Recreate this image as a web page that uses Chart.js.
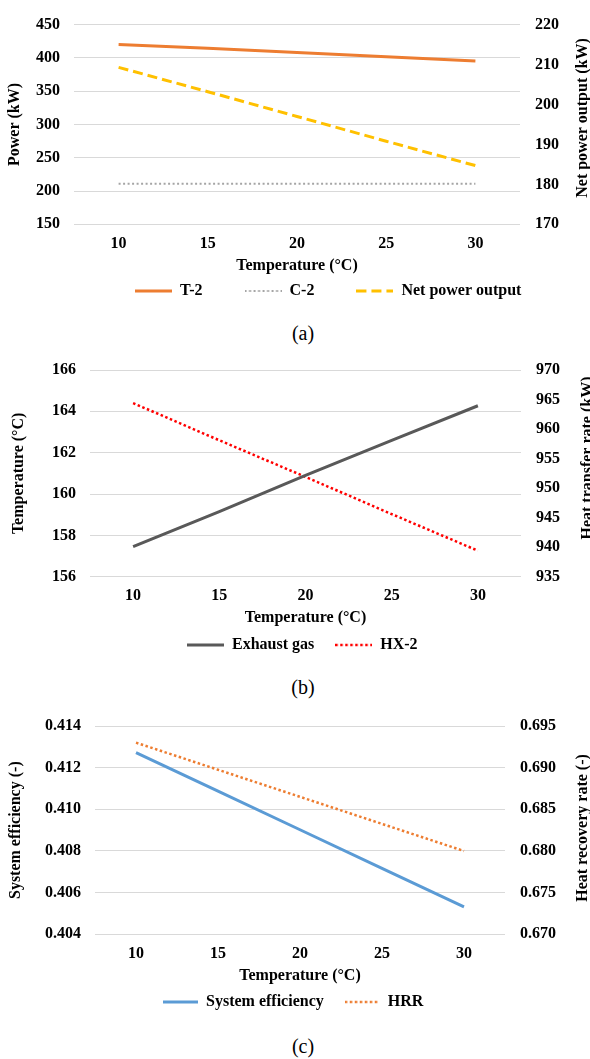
<!DOCTYPE html>
<html>
<head>
<meta charset="utf-8">
<script src="https://cdn.jsdelivr.net/npm/chart.js@4"></script>
<style>
  body { margin: 0; background: #fff; }
  #wrap { position: relative; width: 590px; height: 1059px; overflow: hidden; }
  canvas { position: absolute; left: 0; }
  .cap { position: absolute; left: 0; width: 606px; text-align: center; font: 20px "Liberation Serif", serif; line-height: 24px; color: #000; }
</style>
</head>
<body>
<div id="wrap">
  <canvas id="chartA" width="590" height="320" style="top:0px"></canvas>
  <div class="cap" style="top:321px">(a)</div>
  <canvas id="chartB" width="590" height="330" style="top:340px"></canvas>
  <div class="cap" style="top:675px">(b)</div>
  <canvas id="chartC" width="590" height="330" style="top:700px"></canvas>
  <div class="cap" style="top:1034px">(c)</div>
</div>
<script>
// ambient temperature (x axis)
const temps = ['10', '15', '20', '25', '30'];

// (a) power
const t2Power = [420, 414.3, 408, 401.6, 395.3];
const c2Power = [211, 211, 211, 211, 211];
const netPower = [209.3, 203.2, 197.0, 190.8, 184.7];
const powerTicks = [150, 200, 250, 300, 350, 400, 450];
const netTicks = [170, 180, 190, 200, 210, 220];

// (b) exhaust gas temperature / HX-2 heat
const exhaustTemp = [157.45, 159.15, 160.9, 162.6, 164.27];
const hx2Heat = [964.4, 958.1, 951.9, 945.6, 939.4];
const tempTicks = [156, 158, 160, 162, 164, 166];
const heatTicks = [935, 940, 945, 950, 955, 960, 965, 970];

// (c) efficiency / heat recovery rate
const sysEff = [0.41272, 0.41087, 0.40902, 0.40717, 0.40532];
const hrr = [0.6930, 0.68975, 0.6865, 0.68325, 0.6800];
const effTicks = [0.404, 0.406, 0.408, 0.410, 0.412, 0.414];
const hrrTicks = [0.670, 0.675, 0.680, 0.685, 0.690, 0.695];

Chart.defaults.font.family = '"Liberation Serif", "Times New Roman", serif';
Chart.defaults.font.size = 16;
Chart.defaults.font.weight = 'bold';
Chart.defaults.color = '#000';

// put the legend at a fixed spot (x = first sample start, y = text middle)
const legendPos = {
    id: 'legendPos',
    afterLayout(chart, args, opts) {
        const lg = chart.legend;
        const pad = lg.options.labels.padding;
        lg.left = opts.x - pad;
        lg.right = chart.width + 500;
        lg.top = opts.y - pad - 8;
        lg.bottom = opts.y + 20;   // legend clips to its own box
    }
};

// right axis title reads bottom-to-top like the left one
const rightTitle = {
    id: 'rightTitle',
    afterDraw(chart, args, opts) {
        const ctx = chart.ctx;
        ctx.save();
        ctx.translate(opts.x, opts.y);
        ctx.rotate(-Math.PI / 2);
        ctx.font = 'bold 16px "Liberation Serif", serif';
        ctx.fillStyle = '#000';
        ctx.textAlign = 'center';
        ctx.textBaseline = 'middle';
        ctx.fillText(opts.text, 0, 0);
        ctx.restore();
    }
};

// small line sample (keeps the dash pattern) used as legend point style
function lineSample(ds, w) {
    const c = document.createElement('canvas');
    c.width = w;
    c.height = 8;
    const g = c.getContext('2d');
    g.strokeStyle = ds.borderColor;
    g.lineWidth = ds.borderWidth;
    g.setLineDash(ds.borderDash || []);
    g.beginPath();
    g.moveTo(0, 4);
    g.lineTo(w, 4);
    g.stroke();
    return c;
}

function yScale(position, ticks, decimals, width, title, titlePad) {
    return {
        position: position,
        min: ticks[0],
        max: ticks[ticks.length - 1],
        afterBuildTicks: s => { s.ticks = ticks.map(v => ({ value: v })); },
        afterFit: s => { s.width = width; },
        grid: { display: position === 'left', color: '#D9D9D9', lineWidth: 1, drawTicks: false },
        border: { display: false },
        ticks: { padding: position === 'left' ? 14 : 15, callback: v => v.toFixed(decimals) },
        title: { display: !!title, text: title, padding: { top: titlePad, bottom: 0 } }
    };
}

function xScale(height) {
    return {
        type: 'category',
        offset: true,
        afterFit: s => { s.height = height; },
        grid: { display: false, drawTicks: false },
        border: { display: false },
        ticks: { padding: 10, maxRotation: 0 },
        title: { display: true, text: 'Temperature (°C)', padding: { top: 0, bottom: 0 } }
    };
}

function lineSet(label, data, color, width, dash, axis) {
    return {
        label: label,
        data: data,
        yAxisID: axis,
        borderColor: color,
        backgroundColor: color,
        borderWidth: width,
        borderDash: dash,
        pointRadius: 0,
        tension: 0,
        fill: false
    };
}

function legendOpts(pad, boxW) {
    return {
        position: 'bottom',
        align: 'start',
        maxHeight: 1,
        labels: {
            usePointStyle: true,
            pointStyleWidth: boxW,
            padding: pad,
            color: '#000',
            generateLabels: chart => {
                const items = Chart.defaults.plugins.legend.labels.generateLabels(chart);
                items.forEach(it => {
                    it.pointStyle = lineSample(chart.data.datasets[it.datasetIndex], boxW);
                });
                return items;
            }
        }
    };
}

// (a)
new Chart(document.getElementById('chartA'), {
    type: 'line',
    data: {
        labels: temps,
        datasets: [
            lineSet('T-2', t2Power, '#ED7D31', 3, [], 'y'),
            lineSet('C-2', c2Power, '#A5A5A5', 2, [2, 2.5], 'y'),
            lineSet('Net power output', netPower, '#FFC000', 3, [10, 5], 'y1')
        ]
    },
    options: {
        responsive: false,
        animation: false,
        devicePixelRatio: 1,
        layout: { padding: { top: 16, bottom: 43.4, left: 0, right: 0 } },
        scales: {
            x: xScale(51.3),
            y: yScale('left', powerTicks, 0, 74, 'Power (kW)', 5.4),
            y1: yScale('right', netTicks, 0, 70, '', 0)
        },
        plugins: {
            legend: legendOpts(42, 37),
            legendPos: { x: 135, y: 291 },
            rightTitle: { text: 'Net power output (kW)', x: 583, y: 118 },
            tooltip: { enabled: false }
        }
    },
    plugins: [legendPos, rightTitle]
});

// (b)
new Chart(document.getElementById('chartB'), {
    type: 'line',
    data: {
        labels: temps,
        datasets: [
            lineSet('Exhaust gas', exhaustTemp, '#595959', 3, [], 'y'),
            lineSet('HX-2', hx2Heat, '#FF0000', 2.5, [2.5, 2.5], 'y1')
        ]
    },
    options: {
        responsive: false,
        animation: false,
        devicePixelRatio: 1,
        layout: { padding: { top: 30, bottom: 41.4, left: 0, right: 0 } },
        scales: {
            x: xScale(50.9),
            y: yScale('left', tempTicks, 0, 90, 'Temperature (°C)', 9.4),
            y1: yScale('right', heatTicks, 0, 69, '', 0)
        },
        plugins: {
            legend: legendOpts(21, 37),
            legendPos: { x: 187, y: 305 },
            rightTitle: { text: 'Heat transfer rate (kW)', x: 588, y: 118 },
            tooltip: { enabled: false }
        }
    },
    plugins: [legendPos, rightTitle]
});

// (c)
new Chart(document.getElementById('chartC'), {
    type: 'line',
    data: {
        labels: temps,
        datasets: [
            lineSet('System efficiency', sysEff, '#5B9BD5', 3, [], 'y'),
            lineSet('HRR', hrr, '#ED7D31', 2.5, [2.5, 2.5], 'y1')
        ]
    },
    options: {
        responsive: false,
        animation: false,
        devicePixelRatio: 1,
        layout: { padding: { top: 26, bottom: 43.4, left: 0, right: 0 } },
        scales: {
            x: xScale(51.3),
            y: yScale('left', effTicks, 3, 95, 'System efficiency (-)', 6.4),
            y1: yScale('right', hrrTicks, 3, 85, '', 0)
        },
        plugins: {
            legend: legendOpts(21, 35),
            legendPos: { x: 163, y: 302 },
            rightTitle: { text: 'Heat recovery rate (-)', x: 583, y: 128 },
            tooltip: { enabled: false }
        }
    },
    plugins: [legendPos, rightTitle]
});
</script>
</body>
</html>
